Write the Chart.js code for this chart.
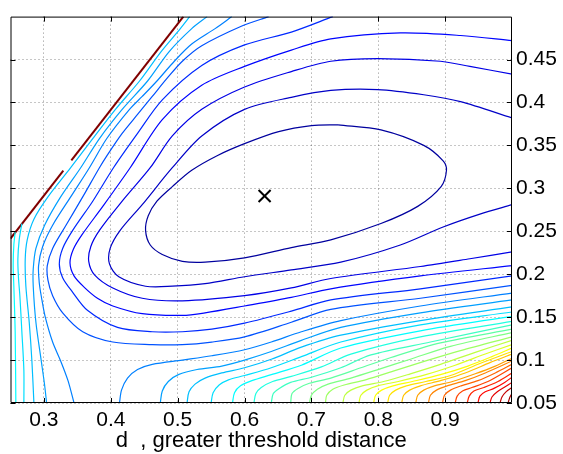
<!DOCTYPE html>
<html>
<head>
<meta charset="utf-8">
<script src="https://cdn.jsdelivr.net/npm/chart.js@4.4.1/dist/chart.umd.min.js"></script>
<style>
  html, body { margin: 0; padding: 0; background: #fff; }
</style>
</head>
<body>
<canvas id="myChart" width="563" height="454"></canvas>
<script>
// axis ticks
const xTicks = [0.3, 0.4, 0.5, 0.6, 0.7, 0.8, 0.9];
const yTicks = [0.05, 0.1, 0.15, 0.2, 0.25, 0.3, 0.35, 0.4, 0.45];

// best estimate (the x marker)
const optimum = [0.63, 0.291];

// edge of the admissible region (dark red), drawn in two pieces
const boundaryLower = [[0.25, 0.2415], [0.329, 0.3205]];
const boundaryUpper = [[0.341, 0.3325], [0.5085, 0.5]];

// contour levels are counted 1..30, the boundary sits on the top of the colour map
const boundaryLevel = 31;

// level 1: closed ring around the optimum
const innerRing = [[0.740,0.374],[0.804,0.368],[0.868,0.350],[0.897,0.332],[0.902,0.321],[0.894,0.302],
  [0.859,0.279],[0.804,0.259],[0.729,0.240],[0.670,0.231],[0.600,0.219],[0.541,0.214],[0.507,0.215],
  [0.477,0.223],[0.459,0.234],[0.452,0.251],[0.456,0.268],[0.469,0.285],[0.492,0.302],[0.521,0.321],
  [0.559,0.338],[0.600,0.352],[0.651,0.366],[0.700,0.373],[0.740,0.374]];

// levels 2..6: open U shaped contours
const uLevels = [2, 3, 4, 5, 6];
const uArcs = [
  [[1.0,0.382],[0.923,0.401],[0.868,0.409],[0.799,0.415],[0.729,0.414],[0.670,0.406],[0.600,0.392],
   [0.536,0.361],[0.492,0.324],[0.447,0.281],[0.414,0.251],[0.399,0.230],[0.398,0.212],[0.412,0.197],
   [0.452,0.186],[0.492,0.186],[0.541,0.189],[0.600,0.197],[0.670,0.205],[0.744,0.214],[0.833,0.234],
   [0.897,0.255],[0.952,0.270],[1.0,0.281]],
  [[1.0,0.433],[0.937,0.442],[0.893,0.448],[0.799,0.451],[0.729,0.448],[0.670,0.436],[0.600,0.418],
   [0.536,0.392],[0.492,0.361],[0.459,0.324],[0.417,0.285],[0.383,0.251],[0.370,0.232],[0.367,0.215],
   [0.376,0.199],[0.403,0.184],[0.447,0.172],[0.507,0.169],[0.600,0.175],[0.670,0.184],[0.729,0.195],
   [0.863,0.209],[0.937,0.218],[1.0,0.226]],
  [[1.0,0.472],[0.923,0.478],[0.833,0.481],[0.729,0.474],[0.670,0.461],[0.600,0.442],[0.536,0.420],
   [0.477,0.380],[0.429,0.324],[0.388,0.279],[0.357,0.246],[0.344,0.229],[0.339,0.213],[0.345,0.198],
   [0.360,0.185],[0.380,0.172],[0.403,0.163],[0.447,0.154],[0.507,0.152],[0.541,0.155],[0.600,0.163],
   [0.670,0.173],[0.729,0.183],[0.863,0.198],[1.0,0.210]],
  [[0.732,0.5],[0.670,0.482],[0.600,0.467],[0.536,0.443],[0.477,0.403],[0.440,0.364],[0.404,0.324],
   [0.373,0.285],[0.343,0.251],[0.328,0.230],[0.323,0.212],[0.328,0.196],[0.342,0.180],[0.365,0.158],
   [0.410,0.138],[0.462,0.133],[0.507,0.133],[0.551,0.136],[0.600,0.143],[0.670,0.157],[0.729,0.170],
   [0.863,0.183],[1.0,0.198]],
  [[0.636,0.5],[0.596,0.489],[0.536,0.466],[0.507,0.448],[0.484,0.428],[0.462,0.407],[0.440,0.386],
   [0.417,0.364],[0.395,0.339],[0.383,0.324],[0.358,0.290],[0.333,0.257],[0.313,0.230],[0.305,0.210],
   [0.306,0.193],[0.313,0.175],[0.328,0.155],[0.358,0.133],[0.403,0.121],[0.462,0.118],[0.507,0.118],
   [0.551,0.121],[0.600,0.127],[0.670,0.144],[0.729,0.159],[0.863,0.172],[1.0,0.187]]
];

// levels 7..11: left pieces running down to the bottom edge
const leftLevels = [7, 8, 9, 10, 11];
const leftArcs = [
  [[0.581,0.5],[0.556,0.486],[0.521,0.468],[0.495,0.448],[0.469,0.425],[0.447,0.407],[0.428,0.392],
   [0.394,0.358],[0.368,0.324],[0.340,0.290],[0.313,0.257],[0.298,0.232],[0.292,0.210],[0.293,0.190],
   [0.297,0.170],[0.302,0.150],[0.313,0.121],[0.325,0.099],[0.336,0.076],[0.345,0.05]],
  [[0.544,0.5],[0.521,0.486],[0.487,0.459],[0.455,0.425],[0.417,0.392],[0.383,0.358],[0.355,0.324],
   [0.325,0.290],[0.301,0.257],[0.288,0.230],[0.284,0.206],[0.284,0.186],[0.288,0.144],[0.296,0.099],
   [0.301,0.071],[0.304,0.05]],
  [[0.518,0.5],[0.504,0.486],[0.475,0.459],[0.443,0.425],[0.407,0.392],[0.373,0.358],[0.340,0.324],
   [0.306,0.290],[0.285,0.264],[0.275,0.240],[0.272,0.217],[0.273,0.186],[0.278,0.144],[0.282,0.099],
   [0.285,0.05]],
  [[0.267,0.259],[0.263,0.240],[0.261,0.217],[0.262,0.195],[0.264,0.175],[0.267,0.133],[0.270,0.088],
   [0.270,0.05]],
  [[0.257,0.249],[0.255,0.234],[0.254,0.211],[0.255,0.186],[0.257,0.133],[0.258,0.05]]
];

// levels 7..14: lower right pieces, blue to green
const cornerLevelsCool = [7, 8, 9, 10, 11, 12, 13, 14];
const cornerArcsCool = [
  [[0.413,0.05],[0.416,0.065],[0.425,0.079],[0.440,0.089],[0.462,0.095],[0.507,0.100],[0.551,0.105],
   [0.600,0.112],[0.640,0.121],[0.685,0.133],[0.744,0.146],[0.863,0.163],[1.0,0.178]],
  [[0.474,0.05],[0.477,0.064],[0.486,0.075],[0.501,0.083],[0.529,0.089],[0.566,0.093],[0.600,0.100],
   [0.640,0.110],[0.685,0.123],[0.744,0.138],[0.863,0.155],[1.0,0.170]],
  [[0.514,0.05],[0.517,0.063],[0.526,0.072],[0.541,0.079],[0.566,0.085],[0.600,0.091],[0.640,0.101],
   [0.685,0.115],[0.744,0.129],[0.863,0.146],[1.0,0.162]],
  [[0.550,0.05],[0.553,0.062],[0.562,0.071],[0.576,0.077],[0.600,0.082],[0.640,0.091],[0.685,0.104],
   [0.744,0.121],[0.863,0.141],[1.0,0.156]],
  [[0.582,0.05],[0.585,0.062],[0.594,0.070],[0.611,0.076],[0.640,0.083],[0.685,0.094],[0.744,0.114],
   [0.863,0.134],[1.0,0.151]],
  [[0.614,0.05],[0.617,0.061],[0.625,0.068],[0.642,0.075],[0.670,0.081],[0.715,0.092],[0.759,0.107],
   [0.863,0.127],[1.0,0.145]],
  [[0.640,0.05],[0.643,0.061],[0.652,0.067],[0.669,0.074],[0.700,0.080],[0.744,0.091],[0.789,0.106],
   [0.878,0.121],[1.0,0.141]],
  [[0.669,0.05],[0.671,0.061],[0.680,0.067],[0.697,0.073],[0.729,0.079],[0.774,0.091],[0.819,0.103],
   [0.893,0.120],[1.0,0.136]]
];

// levels 15..22: green to orange
const cornerLevelsWarm = [15, 16, 17, 18, 19, 20, 21, 22];
const cornerArcsWarm = [
  [[0.697,0.05],[0.700,0.059],[0.709,0.066],[0.725,0.072],[0.759,0.079],[0.804,0.090],[0.848,0.101],
   [0.908,0.116],[1.0,0.132]],
  [[0.721,0.05],[0.723,0.059],[0.732,0.066],[0.749,0.071],[0.781,0.077],[0.826,0.088],[0.871,0.099],
   [0.923,0.111],[1.0,0.127]],
  [[0.747,0.05],[0.750,0.059],[0.759,0.065],[0.776,0.070],[0.808,0.075],[0.848,0.084],[0.893,0.095],
   [0.945,0.109],[1.0,0.123]],
  [[0.771,0.05],[0.774,0.059],[0.783,0.065],[0.799,0.070],[0.830,0.075],[0.871,0.083],[0.915,0.094],
   [0.960,0.107],[1.0,0.118]],
  [[0.793,0.05],[0.796,0.059],[0.805,0.065],[0.822,0.070],[0.851,0.075],[0.893,0.083],[0.934,0.093],
   [0.970,0.104],[1.0,0.114]],
  [[0.814,0.05],[0.817,0.059],[0.826,0.065],[0.842,0.070],[0.871,0.075],[0.908,0.082],[0.952,0.096],
   [1.0,0.110]],
  [[0.835,0.05],[0.838,0.059],[0.847,0.065],[0.863,0.070],[0.893,0.076],[0.930,0.085],[0.967,0.097],
   [1.0,0.107]],
  [[0.856,0.05],[0.859,0.059],[0.868,0.065],[0.884,0.070],[0.911,0.075],[0.945,0.084],[0.975,0.093],
   [1.0,0.102]]
];

// levels 23..30: orange to dark red, in the corner
const cornerLevelsHot = [23, 24, 25, 26, 27, 28, 29, 30];
const cornerArcsHot = [
  [[0.875,0.05],[0.878,0.059],[0.887,0.065],[0.903,0.070],[0.930,0.076],[0.960,0.085],[1.0,0.099]],
  [[0.896,0.05],[0.899,0.059],[0.908,0.065],[0.924,0.070],[0.949,0.076],[0.975,0.085],[1.0,0.095]],
  [[0.915,0.05],[0.918,0.058],[0.926,0.064],[0.940,0.068],[0.964,0.075],[1.0,0.091]],
  [[0.933,0.05],[0.936,0.058],[0.943,0.064],[0.958,0.068],[0.979,0.075],[1.0,0.085]],
  [[0.949,0.05],[0.952,0.058],[0.960,0.063],[0.973,0.067],[0.989,0.074],[1.0,0.080]],
  [[0.967,0.05],[0.970,0.057],[0.978,0.063],[0.988,0.068],[1.0,0.074]],
  [[0.982,0.05],[0.985,0.057],[0.991,0.063],[1.0,0.068]],
  [[0.994,0.05],[0.997,0.057],[1.0,0.061]]
];

// position of a level on the jet colour map
function levelShade(level) {
  if (level >= boundaryLevel) return 1;
  if (level <= 6) return [0.03, 0.07, 0.10, 0.13, 0.165, 0.205][level - 1];
  return 0.25 + (level - 7) * 0.031;
}

function jet(level) {
  const t = levelShade(level);
  const c = k => Math.round(255 * Math.max(0, Math.min(1, 1.5 - Math.abs(4 * t - k))));
  return 'rgb(' + c(3) + ',' + c(2) + ',' + c(1) + ')';
}

function contour(points, level, width) {
  return {
    data: points.map(p => ({x: p[0], y: p[1]})),
    borderColor: jet(level),
    borderWidth: width || 1.2,
    showLine: true,
    pointRadius: 0,
    tension: 0.3,
    fill: false
  };
}

const datasets = [contour(innerRing, 1)];
uArcs.forEach((arc, i) => datasets.push(contour(arc, uLevels[i])));
leftArcs.forEach((arc, i) => datasets.push(contour(arc, leftLevels[i])));
cornerArcsCool.forEach((arc, i) => datasets.push(contour(arc, cornerLevelsCool[i])));
cornerArcsWarm.forEach((arc, i) => datasets.push(contour(arc, cornerLevelsWarm[i])));
cornerArcsHot.forEach((arc, i) => datasets.push(contour(arc, cornerLevelsHot[i])));
datasets.push(Object.assign(contour(boundaryLower, boundaryLevel, 2), {tension: 0}));
datasets.push(Object.assign(contour(boundaryUpper, boundaryLevel, 2), {tension: 0}));
datasets.push({
  data: [{x: optimum[0], y: optimum[1]}],
  pointStyle: 'crossRot',
  pointRadius: 8.5,
  borderColor: '#000',
  borderWidth: 2,
  showLine: false
});

// box round the axes with small inward ticks, like the original figure
const frameBox = {
  id: 'frameBox',
  afterDatasetsDraw(chart) {
    const {ctx, chartArea: a, scales} = chart;
    const len = 5;
    ctx.save();
    ctx.strokeStyle = '#000';
    ctx.lineWidth = 1;
    ctx.beginPath();
    ctx.rect(a.left + 0.5, a.top + 0.5, a.width - 1, a.height - 1);
    xTicks.forEach(v => {
      const px = Math.round(scales.x.getPixelForValue(v)) + 0.5;
      ctx.moveTo(px, a.bottom); ctx.lineTo(px, a.bottom - len);
      ctx.moveTo(px, a.top); ctx.lineTo(px, a.top + len);
    });
    yTicks.forEach(v => {
      const py = Math.round(scales.y.getPixelForValue(v)) + 0.5;
      ctx.moveTo(a.left, py); ctx.lineTo(a.left + len, py);
      ctx.moveTo(a.right, py); ctx.lineTo(a.right - len, py);
    });
    ctx.stroke();
    ctx.restore();
  }
};

const tickFont = {family: 'Liberation Sans', size: 21};
const gridStyle = {color: 'rgba(0,0,0,0.45)', lineWidth: 1, drawTicks: false};

new Chart(document.getElementById('myChart'), {
  type: 'scatter',
  data: {datasets: datasets},
  options: {
    responsive: false,
    animation: false,
    events: [],
    layout: {padding: {left: 7, top: 4, right: 0, bottom: 0}},
    plugins: {legend: {display: false}, tooltip: {enabled: false}},
    scales: {
      x: {
        type: 'linear',
        min: 0.25,
        max: 1.0,
        afterBuildTicks: s => { s.ticks = xTicks.map(v => ({value: v})); },
        afterFit: s => { s.height = 51; },
        grid: gridStyle,
        border: {display: false, dash: [1, 3]},
        ticks: {color: '#000', font: tickFont, padding: 5, maxRotation: 0, autoSkip: false,
                callback: v => String(v)},
        title: {display: true, text: 'd  , greater threshold distance', color: '#000',
                font: {family: 'Liberation Sans', size: 22}, padding: {top: 0, bottom: 0}}
      },
      y: {
        type: 'linear',
        position: 'right',
        min: 0.05,
        max: 0.5,
        afterBuildTicks: s => { s.ticks = yTicks.map(v => ({value: v})); },
        afterFit: s => { s.width = 51; },
        grid: gridStyle,
        border: {display: false, dash: [1, 3]},
        ticks: {color: '#000', font: tickFont, padding: 4, autoSkip: false,
                callback: v => String(v)}
      }
    }
  },
  plugins: [frameBox]
});
</script>
</body>
</html>
